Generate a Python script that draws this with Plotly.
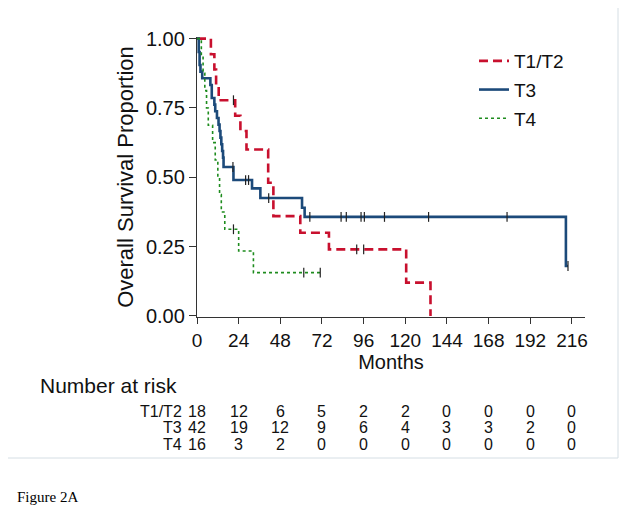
import plotly.graph_objects as go

# ---- Kaplan-Meier step data ----
t12_time = [0, 8, 10, 11, 12.5, 22, 25, 28.5, 41, 44, 59.5, 76, 120.5, 134.5]
t12_surv = [1.0, 0.944, 0.889, 0.833, 0.778, 0.722, 0.667, 0.60, 0.48, 0.36, 0.30, 0.24, 0.12, 0.0]
t12_cens_time = [21, 92, 96]
t12_cens_surv = [0.778, 0.24, 0.24]

t3_time = [0, 1, 1.5, 2, 3, 7.7, 8.5, 10, 10.5, 11.5, 12.4, 13, 13.5, 14, 14.5, 15, 15.3,
           21, 31.7, 36.5, 60.5, 62, 212.5, 213.7]
t3_surv = [1.0, 0.952, 0.905, 0.881, 0.857, 0.833, 0.786, 0.762, 0.738, 0.714, 0.69, 0.667,
           0.643, 0.619, 0.595, 0.571, 0.537, 0.49, 0.46, 0.425, 0.39, 0.357, 0.18, 0.18]
t3_cens_time = [20.7, 28, 29.7, 41.3, 65, 83, 86, 94.5, 96.4, 108, 133.4, 178.6, 213.7]
t3_cens_surv = [0.537, 0.49, 0.49, 0.425, 0.357, 0.357, 0.357, 0.357, 0.357, 0.357, 0.357, 0.357, 0.18]

t4_time = [0, 2.5, 3.5, 4.5, 5.5, 6.5, 9, 10.5, 12, 13, 14, 16, 24, 32.5, 71]
t4_surv = [1.0, 0.9375, 0.875, 0.8125, 0.75, 0.6875, 0.625, 0.5625, 0.5, 0.4375, 0.375,
           0.3125, 0.234, 0.156, 0.156]
t4_cens_time = [21, 61.5, 71]
t4_cens_surv = [0.3125, 0.156, 0.156]

# ---- Number at risk table ----
risk_times = [0, 24, 48, 72, 96, 120, 144, 168, 192, 216]
risk_groups = ["T1/T2", "T3", "T4"]
risk_t12 = [18, 12, 6, 5, 2, 2, 0, 0, 0, 0]
risk_t3 = [42, 19, 12, 9, 6, 4, 3, 3, 2, 0]
risk_t4 = [16, 3, 2, 0, 0, 0, 0, 0, 0, 0]

x_ticks = [0, 24, 48, 72, 96, 120, 144, 168, 192, 216]
y_ticks = [0, 0.25, 0.5, 0.75, 1.0]
y_ticktext = ["0.00", "0.25", "0.50", "0.75", "1.00"]

RED = "#C8102E"
BLUE = "#1C4A7A"
GREEN = "#1E8C1E"
CENS = "#222222"

# plot area in reference pixels: x 197..585, y 37..317
PX0, PY0, PW, PH = 197, 317, 388, 280


def px(x):
    return (x - PX0) / PW


def py(y):
    return (PY0 - y) / PH


fig = go.Figure()
fig.add_trace(go.Scatter(x=t12_time, y=t12_surv, mode="lines", line_shape="hv",
                         name="T1/T2", legendgroup="a",
                         line=dict(color=RED, width=2.6, dash="9px,5px")))
fig.add_trace(go.Scatter(x=t3_time, y=t3_surv, mode="lines", line_shape="hv",
                         name="T3", legendgroup="b",
                         line=dict(color=BLUE, width=2.6)))
fig.add_trace(go.Scatter(x=t4_time, y=t4_surv, mode="lines", line_shape="hv",
                         name="T4", legendgroup="c",
                         line=dict(color=GREEN, width=1.6, dash="dot")))
for ct, cs in [(t12_cens_time, t12_cens_surv), (t3_cens_time, t3_cens_surv),
               (t4_cens_time, t4_cens_surv)]:
    fig.add_trace(go.Scatter(x=ct, y=cs, mode="markers", showlegend=False, hoverinfo="skip",
                             marker=dict(symbol="line-ns", size=7,
                                         line=dict(color=CENS, width=1.2))))

FONT = "Liberation Sans, Arial, sans-serif"
NARROW = "Liberation Sans Narrow, Arial Narrow, Liberation Sans, Arial, sans-serif"

annotations = []
annotations.append(dict(x=px(38), y=py(385), xref="paper", yref="paper",
                        text="Number at risk", showarrow=False, xanchor="left",
                        yanchor="middle", font=dict(size=21, family=NARROW, color="#111")))
row_y = [411, 427.5, 444]
for g, vals, ry in zip(risk_groups, [risk_t12, risk_t3, risk_t4], row_y):
    yp = py(ry)
    annotations.append(dict(x=px(183), y=yp, xref="paper", yref="paper", text=g,
                            showarrow=False, xanchor="right", yanchor="middle",
                            borderpad=0,
                            font=dict(size=16, family=NARROW, color="#111")))
    for t, v in zip(risk_times, vals):
        annotations.append(dict(x=t, y=yp, xref="x", yref="paper", text=str(v),
                                showarrow=False, xanchor="center", yanchor="middle",
                                borderpad=0,
                                font=dict(size=16, family=NARROW, color="#111")))
annotations.append(dict(x=px(15), y=py(497), xref="paper", yref="paper",
                        text="Figure 2A", showarrow=False, xanchor="left", yanchor="middle",
                        font=dict(size=15, family="Liberation Serif, Times New Roman, serif",
                                  color="#000")))

# the page body has an 8px default margin: shift the figure up/left to compensate
FIG_W, FIG_H = 623, 512
ML = PX0 - 8
MT = (PY0 - PH) - 8
MR = FIG_W - ML - PW
MB = FIG_H - MT - PH

fig.update_layout(
    width=FIG_W, height=FIG_H,
    margin=dict(l=ML, r=MR, t=MT, b=MB),
    paper_bgcolor="white", plot_bgcolor="white",
    font=dict(family=FONT, color="#111"),
    showlegend=True,
    legend=dict(x=px(474), y=py(42), xanchor="left", yanchor="top",
                font=dict(size=19, family=FONT, color="#111"),
                bgcolor="rgba(0,0,0,0)", tracegroupgap=1, traceorder="grouped"),
    annotations=annotations,
    xaxis=dict(range=[0, 223.5], tickvals=x_ticks, ticks="outside", ticklen=6,
               tickwidth=1.3, tickcolor="#333", showline=True, linecolor="#333",
               linewidth=1.3, showgrid=False, zeroline=False,
               tickfont=dict(size=19, family=FONT, color="#111"),
               title=dict(text="Months", font=dict(size=20, family=FONT, color="#111"),
                          standoff=0)),
    yaxis=dict(range=[-0.004, 1.006], tickvals=y_ticks, ticktext=y_ticktext,
               ticks="outside", ticklen=7, tickwidth=1.3, tickcolor="#333",
               showline=True, linecolor="#333", linewidth=1.3, showgrid=False,
               zeroline=False, tickfont=dict(size=20, family=FONT, color="#111"),
               title=dict(text="Overall Survival Proportion",
                          font=dict(size=22, family=FONT, color="#111"), standoff=6)),
    shapes=[
        dict(type="line", xref="paper", yref="paper",
             x0=px(0), x1=px(618), y0=py(458), y1=py(458),
             line=dict(color="#D5DEE4", width=1)),
        dict(type="line", xref="paper", yref="paper",
             x0=px(618), x1=px(618), y0=py(458), y1=py(0),
             line=dict(color="#D5DEE4", width=1)),
    ],
)

fig.write_html("out.html")
